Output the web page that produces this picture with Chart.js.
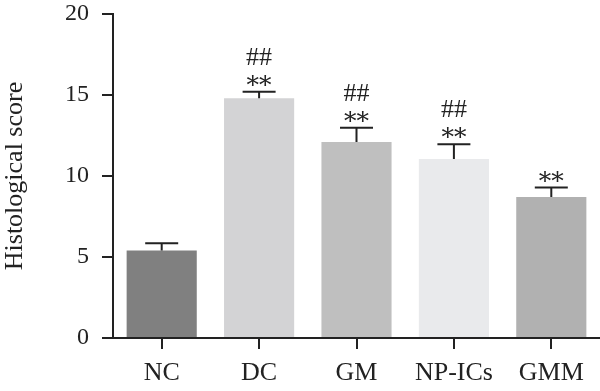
<!DOCTYPE html>
<html>
<head>
<meta charset="utf-8">
<script src="https://cdn.jsdelivr.net/npm/chart.js@4"></script>
<style>
  html, body { margin: 0; padding: 0; background: #fff; }
  #wrap { width: 600px; height: 391px; position: relative; }
</style>
</head>
<body>
<div id="wrap"><canvas id="barChart"></canvas></div>
<script>
const groups = ['NC', 'DC', 'GM', 'NP-ICs', 'GMM'];
const scores = [5.4, 14.8, 12.1, 11.05, 8.7];
const errors = [0.45, 0.4, 0.88, 0.91, 0.59];
const stars = ['', '**', '**', '**', '**'];
const hashes = ['', '##', '##', '##', ''];
const yTicks = [0, 5, 10, 15, 20];
const barColors = ['#808080', '#d3d3d5', '#bfbfbf', '#e9eaec', '#b1b1b1'];

const serif = '"Liberation Serif", "DejaVu Serif", serif';

// error bars, significance marks and the left stub of the x axis
const extras = {
  id: 'extras',
  afterDatasetsDraw(chart) {
    const c = chart.ctx;
    const y = chart.scales.y;
    const bars = chart.getDatasetMeta(0).data;
    c.save();
    c.strokeStyle = '#222';
    c.lineWidth = 2;
    bars.forEach((bar, i) => {
      const yTop = y.getPixelForValue(scores[i] + errors[i]);
      const yBar = y.getPixelForValue(scores[i]);
      c.beginPath();
      c.moveTo(bar.x, yBar);
      c.lineTo(bar.x, yTop);
      c.moveTo(bar.x - 16.5, yTop);
      c.lineTo(bar.x + 16.5, yTop);
      c.stroke();

      c.fillStyle = '#222';
      c.textAlign = 'center';
      c.textBaseline = 'alphabetic';
      c.font = '25px "DejaVu Serif", serif';
      if (stars[i]) c.fillText(stars[i], bar.x, yTop + 1);
      c.font = '26px ' + serif;
      if (hashes[i]) c.fillText(hashes[i], bar.x, yTop - 27);
    });
    // x axis line sticks out left of the y axis
    const a = chart.chartArea;
    c.beginPath();
    c.moveTo(a.left - 11, a.bottom);
    c.lineTo(a.left, a.bottom);
    c.stroke();
    c.restore();
  }
};

new Chart(document.getElementById('barChart'), {
  type: 'bar',
  data: {
    labels: groups,
    datasets: [{
      data: scores,
      backgroundColor: barColors,
      borderWidth: 0,
      barPercentage: 0.72,
      categoryPercentage: 1
    }]
  },
  options: {
    responsive: true,
    maintainAspectRatio: false,
    animation: false,
    layout: { padding: 0 },
    plugins: {
      legend: { display: false },
      tooltip: { enabled: false }
    },
    scales: {
      x: {
        grid: { offset: false, drawOnChartArea: false, drawTicks: true, tickLength: 11, color: '#222', lineWidth: 2 },
        border: { display: true, color: '#222', width: 2 },
        ticks: { color: '#222', font: { family: serif, size: 26 }, padding: 9 },
        afterFit(scale) { scale.height = 53; }
      },
      y: {
        min: 0,
        max: 20,
        afterBuildTicks(scale) { scale.ticks = yTicks.map(v => ({ value: v })); },
        grid: { drawOnChartArea: false, drawTicks: true, tickLength: 11, color: '#222', lineWidth: 2 },
        border: { display: true, color: '#222', width: 2 },
        ticks: { color: '#222', font: { family: serif, size: 24 }, padding: 13 },
        title: {
          display: true,
          text: 'Histological score',
          color: '#222',
          font: { family: serif, size: 26 },
          padding: { top: 0, bottom: 0 }
        },
        afterFit(scale) {
          scale.width = 113;
          scale.paddingTop = 14;
          scale.paddingBottom = 14;
        }
      }
    }
  },
  plugins: [extras]
});
</script>
</body>
</html>
